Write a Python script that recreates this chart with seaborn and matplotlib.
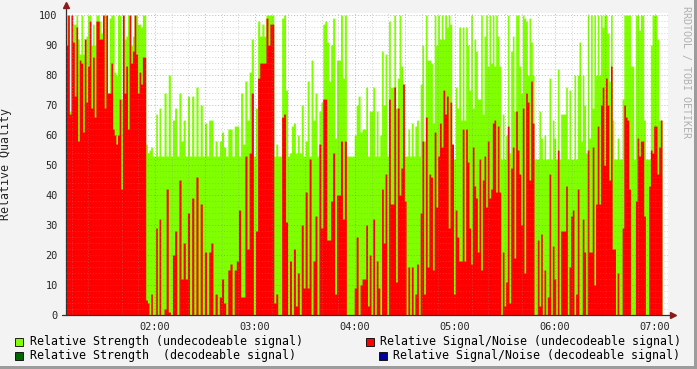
import numpy as np
import pandas as pd
import matplotlib
matplotlib.use('Agg')
import matplotlib.pyplot as plt
from matplotlib.patches import Rectangle
from matplotlib.ticker import MultipleLocator, FuncFormatter
import seaborn as sns

# window boundaries in minutes after midnight (01:06.6 ... 07:04.2)
window_edges = [66.6, 125.4, 185.4, 245.4, 305.4, 365.4, 424.2]

# Relative Signal/Noise (undecodeable) and Relative Strength (undecodeable), per window
red_0107 = [90, 100, 67, 100, 91, 73, 96, 58, 85, 84, 61, 92, 71, 83, 98, 69, 86, 66, 98, 98,
            92, 92, 100, 69, 100, 74, 74, 84, 62, 60, 57, 60, 72, 42, 100, 74, 83, 62, 100, 84,
            88, 100, 87, 74, 81, 77, 86, 86, 5, 4, 0, 7, 0, 0, 29, 0, 32, 0, 0]
green_0107 = [100, 100, 68, 100, 97, 97, 100, 92, 87, 100, 87, 92, 93, 100, 100, 90, 97, 90, 100, 100,
              98, 94, 100, 100, 100, 74, 99, 100, 100, 81, 80, 100, 100, 72, 100, 92, 93, 100, 100, 90,
              93, 100, 100, 97, 97, 96, 100, 100, 57, 54, 55, 56, 53, 53, 67, 53, 69, 53, 53]

red_0205 = [2, 42, 1, 0, 20, 28, 0, 45, 12, 24, 12, 34, 0, 39, 0, 46, 0, 37, 0, 21,
            0, 21, 24, 0, 7, 0, 6, 12, 4, 0, 15, 17, 0, 15, 18, 35, 6, 6, 53, 22,
            54, 74, 0, 28, 79, 84, 84]
green_0205 = [74, 53, 80, 53, 65, 69, 53, 74, 58, 65, 53, 73, 53, 73, 53, 76, 53, 70, 53, 64,
              53, 65, 65, 53, 58, 53, 58, 61, 56, 53, 62, 62, 53, 63, 63, 53, 74, 57, 78, 65,
              81, 92, 53, 69, 98, 93, 97]

red_0305 = [84, 99, 90, 97, 97, 4, 7, 0, 0, 66, 67, 31, 0, 18, 0, 22, 3, 14, 0, 30,
            9, 41, 9, 52, 0, 18, 33, 0, 57, 29, 72, 72, 25, 25, 38, 54, 7, 40, 40, 58,
            32, 58, 0, 0, 0, 0, 9, 26, 0, 10, 12]
green_0305 = [93, 100, 100, 100, 100, 53, 57, 53, 53, 99, 100, 75, 53, 54, 63, 64, 54, 60, 54, 70,
              53, 58, 78, 53, 85, 65, 74, 53, 68, 71, 97, 98, 91, 78, 90, 99, 59, 85, 85, 100,
              79, 100, 53, 53, 53, 53, 60, 70, 73, 61, 62]

red_0405 = [12, 30, 3, 20, 0, 32, 0, 18, 9, 0, 42, 24, 47, 0, 72, 37, 37, 76, 11, 69,
            40, 49, 77, 38, 0, 16, 0, 16, 0, 7, 17, 0, 34, 58, 7, 66, 16, 47, 46, 15,
            61, 36, 53, 64, 56, 75, 67, 73, 29, 71, 57, 7, 35, 26, 18, 18, 62]
green_0405 = [62, 76, 53, 68, 68, 76, 53, 68, 53, 60, 88, 70, 87, 53, 98, 76, 76, 100, 69, 79,
              100, 83, 77, 53, 53, 62, 53, 64, 53, 63, 65, 53, 77, 90, 58, 100, 85, 85, 84, 64,
              100, 90, 100, 92, 100, 92, 100, 96, 100, 97, 53, 52, 76, 69, 96, 65, 96]

red_0505 = [18, 62, 51, 29, 17, 56, 43, 39, 21, 52, 15, 45, 53, 36, 58, 39, 42, 64, 65, 41,
            63, 41, 0, 21, 3, 11, 63, 4, 49, 56, 19, 68, 55, 47, 30, 69, 14, 74, 71, 45,
            78, 64, 0, 0, 25, 3, 27, 0, 15, 0, 6, 47, 0, 23, 12, 0, 55, 0, 28, 28]
green_0505 = [65, 96, 90, 75, 100, 69, 92, 88, 72, 72, 100, 67, 93, 100, 83, 100, 84, 100, 83, 100,
              93, 83, 52, 67, 52, 60, 100, 54, 88, 93, 68, 100, 100, 83, 74, 100, 99, 98, 80, 99,
              91, 80, 52, 52, 52, 68, 59, 52, 60, 52, 52, 79, 52, 65, 59, 52, 82, 52, 67, 67]

red_0605 = [28, 43, 0, 16, 33, 35, 0, 7, 42, 0, 0, 32, 21, 0, 55, 21, 21, 56, 10, 37,
            63, 37, 70, 76, 50, 79, 70, 45, 83, 22, 22, 0, 14, 0, 0, 29, 70, 66, 65, 42,
            0, 0, 0, 38, 59, 53, 58, 58, 33, 0, 0, 43, 55, 54, 63, 63, 47, 56, 65]
green_0605 = [67, 76, 52, 75, 52, 52, 80, 52, 80, 91, 58, 80, 70, 54, 100, 59, 100, 69, 100, 80,
              100, 80, 100, 96, 100, 100, 94, 78, 100, 65, 52, 52, 59, 52, 52, 72, 100, 100, 100, 100,
              83, 83, 52, 100, 100, 95, 100, 100, 65, 52, 52, 52, 90, 100, 100, 100, 92, 65, 65]

legend_labels = ['Relative Strength (undecodeable signal)',
                 'Relative Signal/Noise (undecodeable signal)',
                 'Relative Strength  (decodeable signal)',
                 'Relative Signal/Noise (decodeable signal)']

GREEN = '#80ff00'
RED = '#ff0000'
DKGREEN = '#006600'
BLUE = '#000099'

red_windows = [red_0107, red_0205, red_0305, red_0405, red_0505, red_0605]
green_windows = [green_0107, green_0205, green_0305, green_0405, green_0505, green_0605]

# build one table with one row per sample; each window is sampled evenly
frames = []
bins = [window_edges[0]]
for k in range(len(red_windows)):
    n = len(red_windows[k])
    e = np.linspace(window_edges[k], window_edges[k + 1], n + 1)
    bins.extend(float(v) for v in e[1:])
    frames.append(pd.DataFrame({'minute': (e[:-1] + e[1:]) / 2,
                                'strength': green_windows[k],
                                'snr': red_windows[k]}))
df = pd.concat(frames, ignore_index=True)

sns.set_style('white')
plt.rcParams['font.family'] = ['DejaVu Sans Mono']

W, H = 697, 369
fig = plt.figure(figsize=(W / 100, H / 100), dpi=100, facecolor='#f3f3f3')
ax = fig.add_axes([66 / W, 1 - 315 / H, 602 / W, 302 / H])
ax.set_facecolor('white')

sns.histplot(data=df, x='minute', weights='strength', bins=bins, element='step',
             fill=True, color=GREEN, alpha=1, linewidth=0, ax=ax)
sns.histplot(data=df, x='minute', weights='snr', bins=bins, element='step',
             fill=True, color=RED, alpha=1, linewidth=0, ax=ax)

ax.set_xlim(66.6, 66.6 + 602 * 0.6)
ax.set_ylim(0, 100.7)
ax.set_xlabel('')
ax.set_ylabel('Relative Quality', fontsize=8.4)
ax.yaxis.set_label_coords(-(66 - 12) / 602, 0.5)

ax.xaxis.set_major_locator(MultipleLocator(30))
ax.xaxis.set_minor_locator(MultipleLocator(10))
ax.xaxis.set_major_formatter(FuncFormatter(
    lambda v, p: f'{int(round(v)) // 60:02d}:00' if round(v) % 60 == 0 else ''))
ax.yaxis.set_major_locator(MultipleLocator(10))
ax.yaxis.set_minor_locator(MultipleLocator(2))

ax.set_axisbelow(False)
ax.grid(which='major', color='#e04040', alpha=0.45, linestyle=(0, (1, 2)), linewidth=0.7)
ax.grid(which='minor', color='#909090', alpha=0.4, linestyle=(0, (1, 2)), linewidth=0.7)
ax.tick_params(which='both', direction='out', length=2, width=0.7, color='#404040',
               labelsize=7.4, pad=3)
ax.tick_params(axis='y', which='major', length=3)

for s in ax.spines.values():
    s.set_visible(False)

# axis lines with arrow heads, like rrdtool
ax.plot([0, 0], [0, 1 + 7 / 302], transform=ax.transAxes, color='#303030', lw=0.9, clip_on=False)
ax.plot([-4 / 602, 1 + 4 / 602], [0, 0], transform=ax.transAxes, color='#303030', lw=0.9, clip_on=False)
ax.plot([0], [1 + 8 / 302], transform=ax.transAxes, marker='^', ms=5, color='#8b1a1a', clip_on=False)
ax.plot([1 + 5 / 602], [0], transform=ax.transAxes, marker='>', ms=5, color='#8b1a1a', clip_on=False)

# legend
legend_pos = [(15, 30, 341, GREEN), (366, 380, 341, RED), (15, 30, 355, DKGREEN), (379, 393, 355, BLUE)]
for (sx, tx, ty, col), lab in zip(legend_pos, legend_labels):
    fig.patches.append(Rectangle((sx / W, 1 - (ty + 4.5) / H), 8 / W, 8 / H, transform=fig.transFigure,
                                 facecolor=col, edgecolor='black', linewidth=0.6))
    fig.text(tx / W, 1 - ty / H, lab, fontsize=8.4, va='center', ha='left', color='black')

fig.text(686 / W, 1 - 72 / H, 'RRDTOOL / TOBI OETIKER', rotation=270, ha='center', va='center',
         fontsize=7.2, color='#b0b0b0')

# outer 3d frame
fig.patches.append(Rectangle((1 - 3 / W, 0), 3 / W, 1, transform=fig.transFigure, facecolor='#9c9c9c', lw=0))
fig.patches.append(Rectangle((0, 0), 1, 3 / H, transform=fig.transFigure, facecolor='#9c9c9c', lw=0))

fig.savefig('out.png', dpi=100, facecolor=fig.get_facecolor())
